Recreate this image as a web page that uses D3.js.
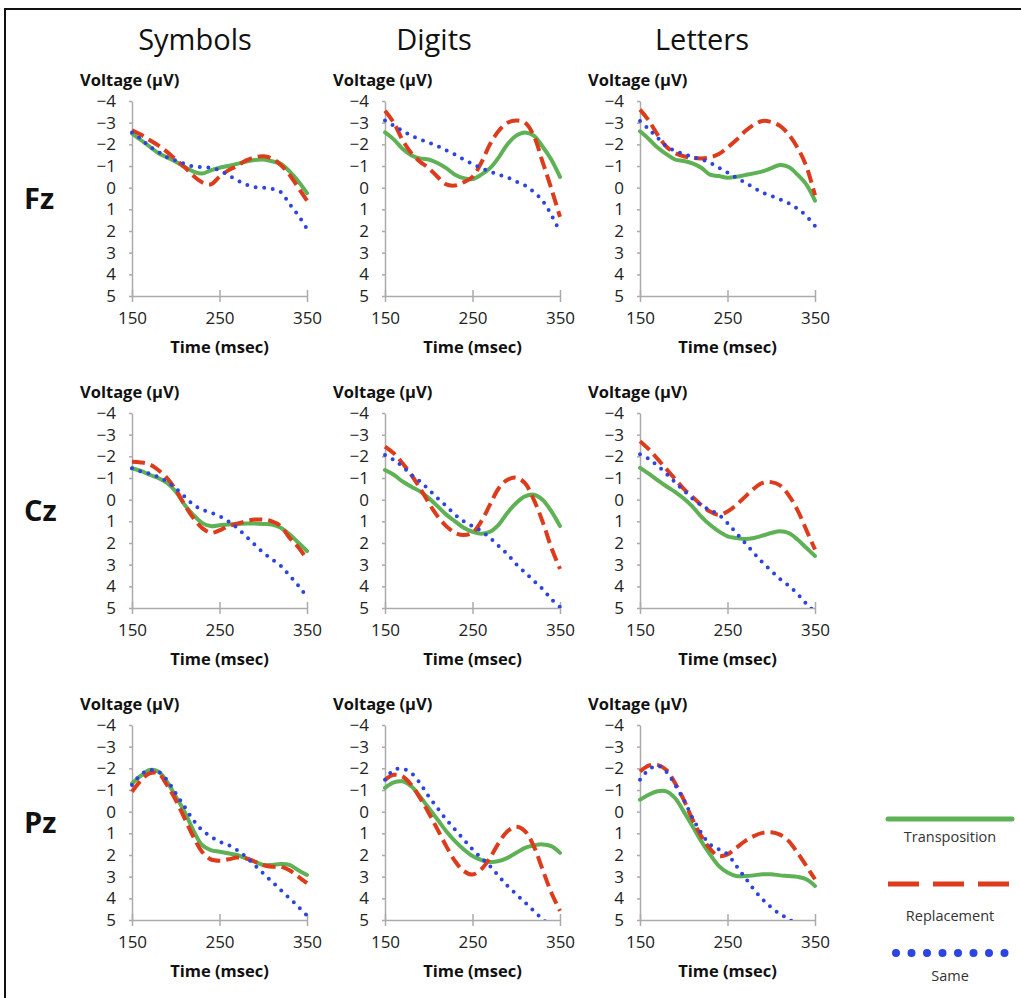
<!DOCTYPE html>
<html lang="en">
<head>
<meta charset="UTF-8">
<title>ERP waveforms by electrode and stimulus type</title>
<script src="https://d3js.org/d3.v7.min.js"></script>
<style>
    body { margin: 0; background: #fff; }
    svg { display: block; }
    .axis path, .axis line { stroke: #ababab; stroke-width: 1.5; }
    .axis text { font-family: "Open Sans", sans-serif; font-size: 17px; fill: #222; }
    .lbl { font-family: "Open Sans", sans-serif; font-weight: bold; font-size: 16.5px; fill: #111; }
</style>
</head>
<body>
<svg id="chart"></svg>
<script>
// time points (msec), one value per 10 ms
const times = [150, 160, 170, 180, 190, 200, 210, 220, 230, 240, 250, 260, 270, 280, 290, 300, 310, 320, 330, 340, 350];
const columns = ["Symbols", "Digits", "Letters"];
const rowsLbl = ["Fz", "Cz", "Pz"];
const yTicks = [-4, -3, -2, -1, 0, 1, 2, 3, 4, 5];
const xTicks = [150, 250, 350];
const series = ["Transposition", "Replacement", "Same"];

// Fz
const fzSymbolsTrans = [-2.5, -2.2, -1.9, -1.6, -1.4, -1.2, -0.95, -0.75, -0.65, -0.8, -0.92, -1.0, -1.1, -1.2, -1.28, -1.3, -1.22, -1.1, -0.75, -0.3, 0.25];
const fzSymbolsRepl  = [-2.65, -2.45, -2.2, -1.95, -1.65, -1.3, -0.95, -0.55, -0.25, -0.15, -0.5, -0.8, -1.0, -1.25, -1.4, -1.45, -1.35, -1.05, -0.6, 0.0, 0.6];
const fzSymbolsSame  = [-2.55, -2.25, -1.9, -1.65, -1.4, -1.25, -1.1, -0.98, -0.95, -0.92, -0.8, -0.57, -0.35, -0.15, -0.03, 0.0, 0.05, 0.2, 0.75, 1.28, 1.9];
const fzDigitsTrans  = [-2.55, -2.23, -1.8, -1.5, -1.35, -1.3, -1.14, -0.9, -0.6, -0.44, -0.4, -0.6, -0.9, -1.4, -2.0, -2.4, -2.55, -2.4, -1.9, -1.3, -0.5];
const fzDigitsRepl   = [-3.55, -3.0, -2.2, -1.6, -1.2, -0.9, -0.5, -0.15, -0.1, -0.25, -0.5, -1.15, -2.0, -2.63, -3.0, -3.1, -3.0, -2.4, -1.2, 0.03, 1.35];
const fzDigitsSame   = [-3.1, -2.86, -2.63, -2.4, -2.23, -2.08, -1.92, -1.72, -1.53, -1.3, -1.1, -0.9, -0.75, -0.6, -0.47, -0.28, -0.1, 0.2, 0.6, 1.25, 2.05];
const fzLettersTrans = [-2.6, -2.25, -1.85, -1.55, -1.3, -1.23, -1.12, -0.92, -0.6, -0.54, -0.46, -0.5, -0.58, -0.66, -0.75, -0.9, -1.05, -0.95, -0.6, -0.15, 0.6];
const fzLettersRepl  = [-3.6, -3.1, -2.45, -1.9, -1.6, -1.45, -1.38, -1.35, -1.4, -1.55, -1.85, -2.2, -2.6, -2.9, -3.08, -3.03, -2.85, -2.45, -1.85, -1.0, 0.35];
const fzLettersSame  = [-3.08, -2.7, -2.3, -1.92, -1.7, -1.55, -1.43, -1.3, -1.15, -0.92, -0.7, -0.46, -0.23, 0.0, 0.23, 0.38, 0.54, 0.72, 0.97, 1.3, 1.77];
// Cz
const czSymbolsTrans = [-1.45, -1.33, -1.15, -1.0, -0.77, -0.38, 0.23, 0.7, 1.07, 1.22, 1.18, 1.15, 1.12, 1.1, 1.1, 1.12, 1.15, 1.3, 1.6, 1.98, 2.37];
const czSymbolsRepl  = [-1.75, -1.72, -1.63, -1.37, -1.0, -0.46, 0.23, 0.84, 1.3, 1.53, 1.42, 1.22, 1.11, 1.0, 0.92, 0.92, 1.0, 1.22, 1.76, 2.2, 2.75];
const czSymbolsSame  = [-1.45, -1.3, -1.2, -1.05, -0.83, -0.52, -0.15, 0.23, 0.46, 0.6, 0.76, 1.0, 1.3, 1.68, 2.06, 2.44, 2.75, 3.05, 3.5, 3.96, 4.5];
const czDigitsTrans  = [-1.37, -1.15, -0.84, -0.6, -0.38, -0.07, 0.3, 0.69, 1.0, 1.3, 1.48, 1.57, 1.48, 1.15, 0.6, 0.15, -0.15, -0.23, 0.0, 0.53, 1.22];
const czDigitsRepl   = [-2.45, -2.14, -1.68, -1.15, -0.53, 0.15, 0.76, 1.22, 1.53, 1.63, 1.53, 1.0, 0.23, -0.53, -0.92, -1.02, -0.76, 0.0, 1.0, 2.2, 3.2];
const czDigitsSame   = [-2.06, -1.83, -1.53, -1.15, -0.84, -0.46, -0.07, 0.3, 0.69, 1.0, 1.22, 1.45, 1.76, 2.14, 2.52, 2.98, 3.36, 3.74, 4.12, 4.58, 4.96];
const czLettersTrans = [-1.47, -1.2, -0.9, -0.62, -0.36, -0.05, 0.32, 0.78, 1.16, 1.46, 1.69, 1.77, 1.81, 1.77, 1.66, 1.54, 1.46, 1.54, 1.84, 2.22, 2.6];
const czLettersRepl  = [-2.7, -2.33, -1.88, -1.42, -0.96, -0.5, -0.13, 0.25, 0.55, 0.7, 0.55, 0.25, -0.13, -0.5, -0.77, -0.81, -0.66, -0.2, 0.48, 1.39, 2.3];
const czLettersSame  = [-2.1, -1.88, -1.57, -1.2, -0.81, -0.43, -0.05, 0.25, 0.48, 0.7, 1.08, 1.54, 1.99, 2.45, 2.9, 3.28, 3.66, 3.97, 4.35, 4.8, 5.2];
// Pz
const pzSymbolsTrans = [-1.3, -1.65, -1.92, -1.85, -1.38, -0.7, 0.0, 0.85, 1.54, 1.77, 1.85, 1.92, 2.0, 2.15, 2.3, 2.46, 2.46, 2.42, 2.46, 2.7, 2.92];
const pzSymbolsRepl  = [-0.92, -1.43, -1.77, -1.77, -1.23, -0.54, 0.3, 1.15, 1.85, 2.2, 2.26, 2.2, 2.12, 2.15, 2.3, 2.46, 2.54, 2.54, 2.7, 3.0, 3.3];
const pzSymbolsSame  = [-1.23, -1.7, -1.92, -1.85, -1.46, -0.85, -0.23, 0.38, 0.85, 1.15, 1.38, 1.54, 1.77, 2.08, 2.46, 2.85, 3.23, 3.62, 4.0, 4.38, 4.8];
const pzDigitsTrans  = [-1.1, -1.35, -1.4, -1.17, -0.7, -0.17, 0.36, 0.9, 1.36, 1.74, 2.05, 2.23, 2.32, 2.28, 2.13, 1.9, 1.67, 1.56, 1.51, 1.59, 1.9];
const pzDigitsRepl   = [-1.47, -1.7, -1.63, -1.24, -0.63, 0.06, 0.82, 1.59, 2.28, 2.74, 2.9, 2.66, 2.13, 1.44, 0.9, 0.7, 0.9, 1.59, 2.66, 3.73, 4.58];
const pzDigitsSame   = [-1.47, -1.93, -1.98, -1.78, -1.32, -0.7, -0.17, 0.36, 0.82, 1.28, 1.74, 2.13, 2.51, 2.97, 3.43, 3.81, 4.19, 4.58, 4.96, 5.3, 5.7];
const pzLettersTrans = [-0.55, -0.78, -0.94, -0.94, -0.63, 0.0, 0.67, 1.36, 1.97, 2.5, 2.81, 2.97, 2.97, 2.94, 2.89, 2.89, 2.94, 2.97, 3.01, 3.12, 3.43];
const pzLettersRepl  = [-1.85, -2.12, -2.16, -1.93, -1.32, -0.55, 0.36, 1.13, 1.71, 2.05, 1.97, 1.67, 1.36, 1.13, 0.98, 0.95, 1.06, 1.36, 1.9, 2.5, 3.12];
const pzLettersSame  = [-1.47, -1.93, -2.12, -1.85, -1.24, -0.55, 0.29, 0.98, 1.51, 1.74, 1.97, 2.5, 3.04, 3.58, 4.04, 4.42, 4.73, 4.96, 5.27, 5.6, 5.9];

const panels = [
    [fzSymbolsTrans, fzSymbolsRepl, fzSymbolsSame], [fzDigitsTrans, fzDigitsRepl, fzDigitsSame], [fzLettersTrans, fzLettersRepl, fzLettersSame],
    [czSymbolsTrans, czSymbolsRepl, czSymbolsSame], [czDigitsTrans, czDigitsRepl, czDigitsSame], [czLettersTrans, czLettersRepl, czLettersSame],
    [pzSymbolsTrans, pzSymbolsRepl, pzSymbolsSame], [pzDigitsTrans, pzDigitsRepl, pzDigitsSame], [pzLettersTrans, pzLettersRepl, pzLettersSame]
];

// layout
const W = 1021, H = 998;
const colX = [132, 385, 640], rowY = [101, 413, 725];
const titleX = [195, 434, 702];
const pw = 175, ph = 195;

const styles = [
    { color: "#5fb156", dash: null, cap: "round" },
    { color: "#dc3c1c", dash: "13,6", cap: "butt" },
    { color: "#2c44e0", dash: "0,8.6", cap: "round" }
];

const svg = d3.select("#chart").attr("width", W).attr("height", H);

// frame
svg.append("path")
   .attr("d", `M5,${H} L5,9 L${W},9`)
   .attr("fill", "none")
   .attr("stroke", "#111")
   .attr("stroke-width", 2);

// column titles
columns.forEach((c, i) => {
    svg.append("text")
       .attr("x", titleX[i])
       .attr("y", 50)
       .attr("text-anchor", "middle")
       .style("font-family", "'Open Sans', sans-serif")
       .style("font-size", "29px")
       .attr("fill", "#111")
       .text(c);
});

// row labels
rowsLbl.forEach((r, i) => {
    svg.append("text")
       .attr("x", 24)
       .attr("y", rowY[i] + 98)
       .attr("dy", "0.35em")
       .style("font-family", "'Open Sans', sans-serif")
       .style("font-weight", "bold")
       .style("font-size", "29px")
       .attr("fill", "#111")
       .text(r);
});

const x = d3.scaleLinear().domain([150, 350]).range([0, pw]);
const y = d3.scaleLinear().domain([-4, 5]).range([0, ph]);
const line = d3.line()
    .x((d, i) => x(times[i]))
    .y(d => y(d))
    .curve(d3.curveCatmullRom.alpha(0.5));

panels.forEach((p, k) => {
    const row = Math.floor(k / 3), col = k % 3;
    const g = svg.append("g").attr("transform", `translate(${colX[col]},${rowY[row]})`);

    g.append("clipPath").attr("id", "clip" + k)
     .append("rect").attr("x", -4).attr("y", -12).attr("width", pw + 8).attr("height", ph + 12);

    // y axis
    g.append("g").attr("class", "axis")
     .call(d3.axisLeft(y).tickValues(yTicks).tickSize(3).tickSizeOuter(0).tickPadding(13)
        .tickFormat(d => d < 0 ? "\u2212" + Math.abs(d) : d));

    // x axis
    const xa = g.append("g").attr("class", "axis")
     .attr("transform", `translate(0,${ph})`)
     .call(d3.axisBottom(x).tickValues(xTicks).tickSize(6).tickSizeOuter(0).tickPadding(10));
    xa.selectAll(".tick line").attr("y1", -6);

    // axis titles
    g.append("text").attr("class", "lbl")
     .attr("x", -52).attr("y", -15)
     .text("Voltage (\u00b5V)");
    g.append("text").attr("class", "lbl")
     .attr("x", pw / 2).attr("y", ph + 57)
     .attr("text-anchor", "middle")
     .text("Time (msec)");

    const lg = g.append("g").attr("clip-path", `url(#clip${k})`);
    p.forEach((vals, s) => {
        lg.append("path")
          .datum(vals)
          .attr("d", line)
          .attr("fill", "none")
          .attr("stroke", styles[s].color)
          .attr("stroke-width", 4)
          .attr("stroke-linecap", styles[s].cap)
          .attr("stroke-dasharray", styles[s].dash);
    });
});

// legend
const legY = [819, 884, 953];
const legTextY = [837, 916, 976];
series.forEach((name, s) => {
    svg.append("line")
       .attr("x1", s === 2 ? 896 : 888).attr("x2", s === 2 ? 1005 : 1012)
       .attr("y1", legY[s]).attr("y2", legY[s])
       .attr("stroke", styles[s].color)
       .attr("stroke-width", s === 2 ? 8 : 5)
       .attr("stroke-linecap", styles[s].cap)
       .attr("stroke-dasharray", s === 1 ? "31,14" : (s === 2 ? "0,15.5" : null));
    svg.append("text")
       .attr("x", 950).attr("y", legTextY[s])
       .attr("dy", "0.35em")
       .attr("text-anchor", "middle")
       .style("font-family", "'Open Sans', sans-serif")
       .style("font-size", "14.5px")
       .attr("fill", "#333")
       .text(name);
});
</script>
</body>
</html>
